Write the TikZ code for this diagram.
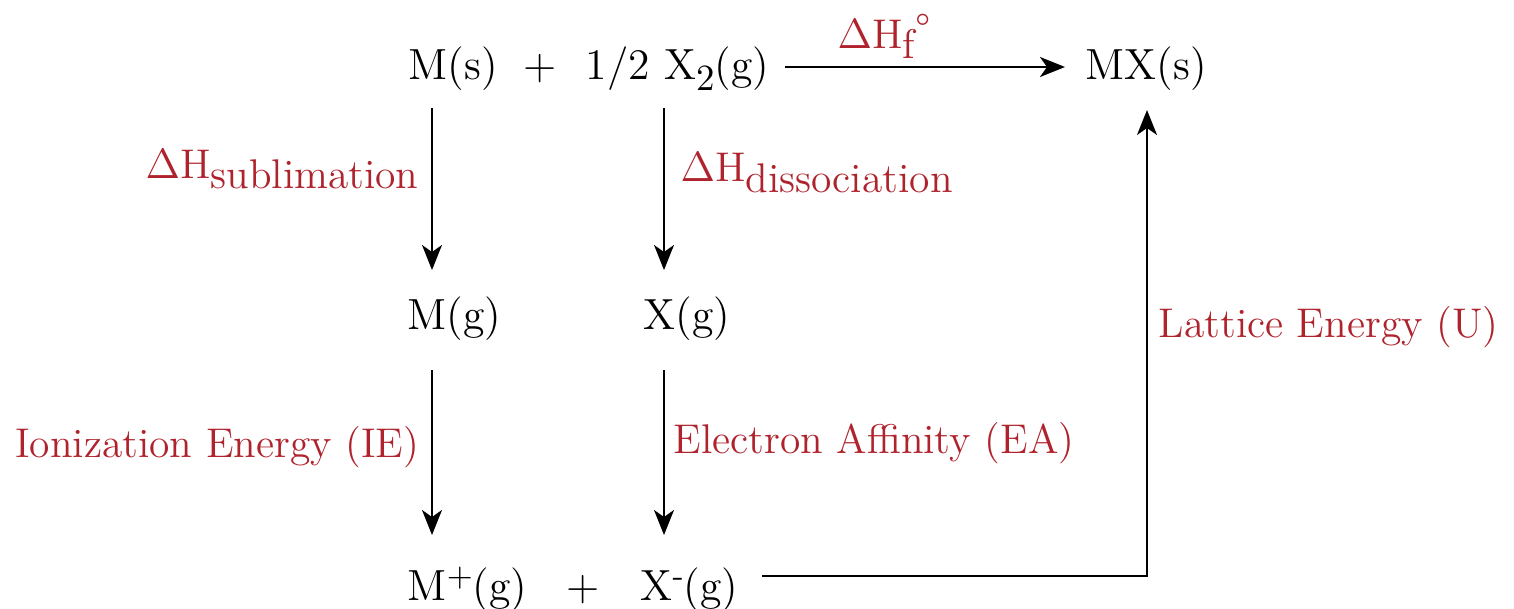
\documentclass[tikz,border=0pt]{standalone}
\usetikzlibrary{arrows.meta}
\definecolor{labred}{RGB}{175,35,45}
\newcommand\lowr[1]{\raisebox{-0.1cm}{#1}}
\newcommand\highr[1]{\raisebox{0.13cm}{\fontsize{9.5}{11}\selectfont #1}}
\begin{document}
\begin{tikzpicture}[x=0.01cm,y=-0.01cm,
  chem/.style={inner sep=0,anchor=base west,font=\fontsize{12.4}{15}\selectfont},
  lab/.style={inner sep=0,anchor=base west,text=labred,font=\fontsize{11.8}{14}\selectfont},
  arr/.style={line width=0.6pt,-{Stealth[length=0.25cm,width=0.2cm,inset=0.07cm]}},
  conn/.style={line width=0.6pt}]
\useasboundingbox (0,0) rectangle (1514,609);
% species
\node[chem] (Ms) at (408,80) {M(s)};
\node[chem,anchor=base] (p1) at (540,80) {+};
\node[chem] (X2) at (585,80) {1/2 X\lowr{\fontsize{10.5}{12}\selectfont 2}(g)};
\node[chem] (MX) at (1085,80) {MX(s)};
\node[chem] (Mg) at (407,329) {M(g)};
\node[chem] (Xg) at (643,329) {X(g)};
\node[chem] (Mp) at (407,600) {M\highr{+}(g)};
\node[chem,anchor=base] (p2) at (583,600) {+};
\node[chem] (Xm) at (640,600) {X\highr{-}(g)};
% labels
\node[lab] (Hf) at (837,48) {$\Delta$H\lowr{f}\raisebox{0.05cm}{\textdegree}};
\node[lab] (Hsub) at (145,178) {$\Delta$H\lowr{sublimation}};
\node[lab] (Hdis) at (680,182) {$\Delta$H\lowr{dissociation}};
\node[lab,anchor=base east] (IE) at (420,457) {Ionization Energy (IE)};
\node[lab] (EA) at (673,453) {Electron Affinity (EA)};
\node[lab] (LE) at (1158,337) {Lattice Energy (U)};
% connector ends
\coordinate (a1s) at (432,108); \coordinate (a1e) at (432,270);
\coordinate (a2s) at (664,108); \coordinate (a2e) at (664,270);
\coordinate (a3s) at (432,370); \coordinate (a3e) at (432,535);
\coordinate (a4s) at (664,370); \coordinate (a4e) at (664,535);
\coordinate (hs) at (785,67); \coordinate (he) at (1065,67);
\coordinate (ls) at (762,576); \coordinate (lc) at (1147,576); \coordinate (le) at (1147,110);
% connectors
\draw[arr] (a1s) -- (a1e);
\draw[arr] (a2s) -- (a2e);
\draw[arr] (a3s) -- (a3e);
\draw[arr] (a4s) -- (a4e);
\draw[arr] (hs) -- (he);
\draw[arr] (ls) -- (lc) -- (le);
\end{tikzpicture}
\end{document}
